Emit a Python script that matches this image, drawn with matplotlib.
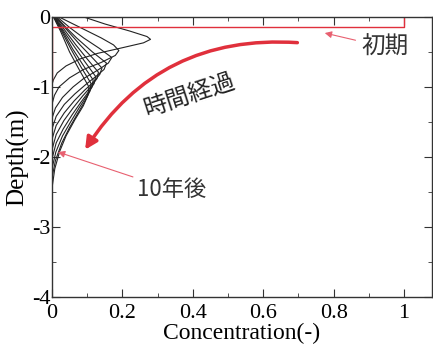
import matplotlib
matplotlib.use("Agg")
import matplotlib.pyplot as plt
from matplotlib.ticker import MultipleLocator

plt.rcParams['font.family'] = ['Liberation Serif', 'DejaVu Serif']
plt.rcParams['axes.unicode_minus'] = False

# initial profile (red)
init_c = [0, 0, 1, 1]
init_d = [-0.9, -0.15, -0.15, 0]

# profiles after 1..10 years (concentration, depth)
curves_c = [
    [0.09, 0.15, 0.22, 0.27, 0.28, 0.26, 0.20, 0.13, 0.08, 0.04, 0.015, 0.004, 0],
    [0.02, 0.06, 0.10, 0.14, 0.175, 0.19, 0.18, 0.14, 0.09, 0.05, 0.02, 0.007, 0],
    [0.015, 0.05, 0.09, 0.135, 0.17, 0.16, 0.13, 0.09, 0.06, 0.03, 0.01, 0],
    [0.012, 0.04, 0.07, 0.115, 0.155, 0.148, 0.125, 0.095, 0.065, 0.035, 0.012, 0],
    [0.01, 0.045, 0.08, 0.118, 0.142, 0.136, 0.118, 0.092, 0.063, 0.035, 0.012, 0],
    [0.008, 0.038, 0.068, 0.10, 0.132, 0.128, 0.11, 0.087, 0.06, 0.034, 0.012, 0],
    [0.007, 0.033, 0.06, 0.095, 0.124, 0.12, 0.104, 0.082, 0.057, 0.032, 0.012, 0],
    [0.006, 0.03, 0.058, 0.09, 0.117, 0.114, 0.099, 0.077, 0.053, 0.03, 0.011, 0],
    [0.005, 0.027, 0.053, 0.083, 0.111, 0.108, 0.094, 0.073, 0.05, 0.028, 0.01, 0],
    [0.004, 0.024, 0.05, 0.077, 0.105, 0.102, 0.089, 0.065, 0.04, 0.022, 0.008, 0],
]
curves_d = [
    [0, -0.1, -0.2, -0.28, -0.32, -0.37, -0.44, -0.52, -0.6, -0.7, -0.8, -0.9, -0.97],
    [0, -0.1, -0.2, -0.3, -0.4, -0.48, -0.55, -0.65, -0.75, -0.87, -1.0, -1.12, -1.25],
    [0, -0.15, -0.3, -0.45, -0.58, -0.66, -0.76, -0.88, -1.0, -1.15, -1.3, -1.45],
    [0, -0.15, -0.3, -0.5, -0.66, -0.75, -0.85, -0.97, -1.1, -1.25, -1.42, -1.6],
    [0, -0.2, -0.4, -0.6, -0.73, -0.82, -0.93, -1.05, -1.2, -1.37, -1.55, -1.75],
    [0, -0.2, -0.4, -0.6, -0.79, -0.88, -1.0, -1.13, -1.3, -1.48, -1.68, -1.9],
    [0, -0.2, -0.4, -0.65, -0.85, -0.95, -1.07, -1.22, -1.4, -1.6, -1.8, -2.03],
    [0, -0.2, -0.45, -0.7, -0.9, -1.0, -1.13, -1.3, -1.5, -1.7, -1.93, -2.17],
    [0, -0.2, -0.45, -0.72, -0.95, -1.06, -1.2, -1.38, -1.58, -1.8, -2.05, -2.3],
    [0, -0.2, -0.5, -0.75, -1.0, -1.12, -1.27, -1.47, -1.7, -1.92, -2.17, -2.45],
]

xticks = [0, 0.2, 0.4, 0.6, 0.8, 1]
xtick_labels = ["0", "0.2", "0.4", "0.6", "0.8", "1"]
yticks = [0, -1, -2, -3, -4]
ytick_labels = ["0", "-1", "-2", "-3", "-4"]

red = "#e0303c"
jp = ['Noto Sans CJK JP', 'DejaVu Sans']

fig = plt.figure(figsize=(4.33, 3.53), dpi=100)
ax = fig.add_axes([0.12, 0.159, 0.878, 0.793])

for c, d in zip(curves_c, curves_d):
    ax.plot(c, d, color="#222222", lw=0.8)
ax.plot(init_c, init_d, color=red, lw=1.0)

ax.set_xlim(0, 1.08)
ax.set_ylim(-4, 0)
ax.set_xticks(xticks)
ax.set_xticklabels(xtick_labels)
ax.set_yticks(yticks)
ax.set_yticklabels(ytick_labels)
ax.xaxis.set_minor_locator(MultipleLocator(0.1))
ax.yaxis.set_minor_locator(MultipleLocator(0.5))
ax.tick_params(which="both", direction="in", top=True, right=True,
               labelsize=16, color="#333333")
ax.tick_params(axis="x", pad=5)
ax.tick_params(axis="y", pad=1)
ax.tick_params(which="major", length=6)
ax.tick_params(which="minor", length=3)
for s in ax.spines.values():
    s.set_linewidth(1.0)
    s.set_color("#333333")

ax.set_xlabel("Concentration(-)", fontsize=17, labelpad=0)
ax.set_ylabel("Depth(m)", fontsize=18, labelpad=2)

# annotations
ax.annotate("初期", xy=(0.775, -0.23), xytext=(0.945, -0.43),
            fontsize=17, family=jp, color="#333333", ha="center", va="center",
            arrowprops=dict(arrowstyle="-|>", color="#e86070", lw=0.8,
                            shrinkA=2, shrinkB=0, mutation_scale=10))
ax.annotate("10年後", xy=(0.017, -1.93), xytext=(0.34, -2.47),
            fontsize=16, family=jp, color="#333333", ha="center", va="center",
            arrowprops=dict(arrowstyle="-|>", color="#e86070", lw=0.8,
                            shrinkA=1, shrinkB=0, mutation_scale=10))
ax.text(0.39, -1.13, "時間経過", fontsize=17, family=jp, color="#222222",
        rotation=18, ha="center", va="center")
ax.annotate("", xy=(0.09, -1.93), xytext=(0.705, -0.37),
            arrowprops=dict(arrowstyle="-|>", color=red, lw=2.5,
                            mutation_scale=18,
                            connectionstyle="arc3,rad=0.3"))

fig.savefig("out.png", dpi=100)
